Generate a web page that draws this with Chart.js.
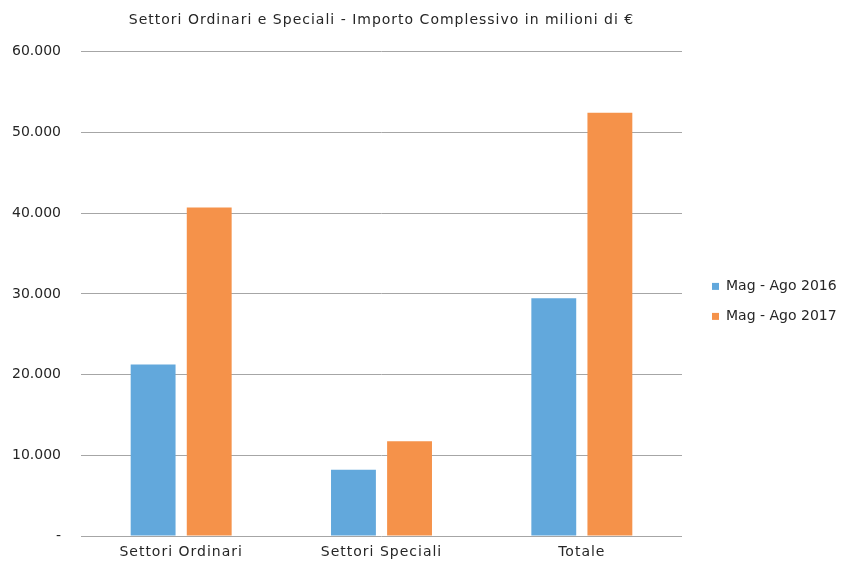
<!DOCTYPE html>
<html>
<head>
<meta charset="utf-8">
<script src="https://cdn.jsdelivr.net/npm/chart.js@4.4.0/dist/chart.umd.min.js"></script>
<style>
  html, body { margin: 0; padding: 0; background: #fff; }
  #wrap { width: 842px; height: 561px; }
</style>
</head>
<body>
<div id="wrap"><canvas id="mycanvas" width="842" height="561"></canvas></div>
<script>
var categories = ['Settori Ordinari', 'Settori Speciali', 'Totale'];
var series2016 = [21250, 8200, 29450];
var series2017 = [40700, 11750, 52450];
var seriesNames = ['Mag - Ago 2016', 'Mag - Ago 2017'];
var titleText = 'Settori Ordinari e Speciali - Importo Complessivo in milioni di €';

Chart.defaults.font.family = "'DejaVu Sans', Verdana, sans-serif";
Chart.defaults.font.size = 14;
Chart.defaults.color = '#262626';

function fmt(v) {
  if (v === 0) return '-';
  return String(v).replace(/\B(?=(\d{3})+(?!\d))/g, '.');
}

// run fn on an element with normal letter spacing
function noSpacing(obj, name) {
  var orig = obj[name];
  obj[name] = function() {
    var c = this.ctx, s = c.letterSpacing;
    c.letterSpacing = '0px';
    var r = orig.apply(this, arguments);
    c.letterSpacing = s;
    return r;
  };
}

// wider letters for title / x labels (reference uses Verdana), fixed legend width
var tweaks = {
  id: 'tweaks',
  beforeUpdate: function(chart) {
    chart.ctx.letterSpacing = '1px';
    var lg = chart.legend;
    if (lg && !lg._patched) {
      noSpacing(lg, 'fit');
      noSpacing(lg, 'draw');
      var fit = lg.fit;
      lg.fit = function() { fit.call(this); this.width = 146; };
      lg._patched = true;
    }
  },
  beforeDraw: function(chart) {
    chart.ctx.letterSpacing = '1px';
    var y = chart.scales.y;
    if (y && !y._patched) {
      noSpacing(y, 'drawLabels');
      y._patched = true;
    }
  }
};

var chartdata = {
  labels: categories,
  datasets: [
    {
      label: seriesNames[0],
      backgroundColor: '#62a8dc',
      data: series2016
    },
    {
      label: seriesNames[1],
      backgroundColor: '#f5924a',
      data: series2017
    }
  ]
};

var ctx = document.getElementById('mycanvas');

var barGraph = new Chart(ctx, {
  type: 'bar',
  data: chartdata,
  plugins: [tweaks],
  options: {
    responsive: false,
    animation: false,
    categoryPercentage: 0.56,
    barPercentage: 0.8,
    layout: { padding: 0 },
    plugins: {
      title: {
        display: true,
        fullSize: false,
        text: titleText,
        font: { size: 14, weight: 'normal' },
        padding: { top: 12, bottom: 23 }
      },
      legend: {
        position: 'right',
        title: { display: true, text: ' ', padding: { top: 25, bottom: 0 } },
        labels: {
          boxWidth: 7,
          boxHeight: 7,
          padding: 16,
          font: { size: 14 }
        }
      },
      tooltip: { enabled: false }
    },
    scales: {
      x: {
        grid: { display: false, drawTicks: false },
        border: { display: false },
        ticks: { padding: 8 },
        afterFit: function(scale) { scale.height = 25; }
      },
      y: {
        min: 0,
        max: 60000,
        border: { display: false },
        grid: { color: '#a6a6a6', drawTicks: false },
        ticks: {
          stepSize: 10000,
          padding: 20,
          callback: function(v) { return fmt(v); }
        },
        afterFit: function(scale) {
          scale.width = 81;
          scale.paddingTop = 0;
          scale.paddingBottom = 0;
        }
      },
      gap: {
        position: 'right',
        display: true,
        grid: { display: false },
        border: { display: false },
        ticks: { display: false },
        afterFit: function(scale) { scale.width = 14; }
      }
    }
  }
});
</script>
</body>
</html>
